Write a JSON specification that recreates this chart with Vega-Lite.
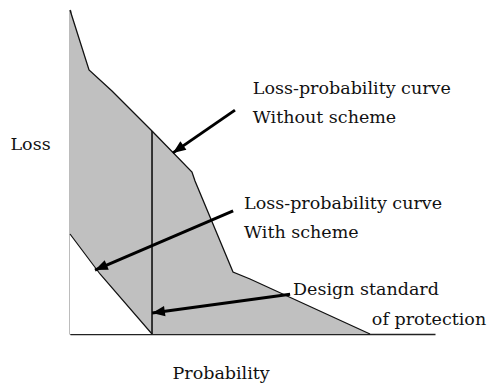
{
  "$schema": "https://vega.github.io/schema/vega-lite/v6.json",
  "width": 365,
  "height": 324,
  "autosize": {"type": "none"},
  "padding": {"left": 70, "top": 10, "right": 64, "bottom": 56},
  "background": "white",
  "config": {
    "view": {"stroke": null},
    "font": "DejaVu Serif",
    "axis": {
      "domainColor": "#222222",
      "domainWidth": 1.6,
      "ticks": false,
      "labels": false,
      "grid": false,
      "zindex": 1,
      "titleFont": "DejaVu Serif",
      "titleFontWeight": "normal",
      "titleFontSize": 17.5,
      "titleColor": "#111111"
    }
  },
  "datasets": {
    "without": [
      {"p": 0, "loss": 100},
      {"p": 5.21, "loss": 81.48},
      {"p": 11.51, "loss": 75.0},
      {"p": 22.47, "loss": 62.65},
      {"p": 33.42, "loss": 50.0},
      {"p": 34.25, "loss": 47.22},
      {"p": 44.66, "loss": 19.14},
      {"p": 49.32, "loss": 16.98},
      {"p": 82.19, "loss": 0}
    ],
    "with": [
      {"p": 0, "loss": 30.86},
      {"p": 8.22, "loss": 18.52},
      {"p": 22.47, "loss": 0}
    ],
    "standard": [
      {"p": 22.47, "loss": 62.65}
    ],
    "arrows": [
      {"id": "without", "p": 45.2, "loss": 69.1, "p2": 28.2, "loss2": 55.9},
      {"id": "with", "p": 44.7, "loss": 38.0, "p2": 6.85, "loss2": 19.75},
      {"id": "standard", "p": 60.3, "loss": 12.3, "p2": 22.5, "loss2": 6.5}
    ],
    "notes": [
      {"text": "Loss-probability curve", "p": 50.1, "loss": 75.5},
      {"text": "Without scheme", "p": 50.1, "loss": 66.7},
      {"text": "Loss-probability curve", "p": 47.7, "loss": 40.1},
      {"text": "With scheme", "p": 47.7, "loss": 31.2},
      {"text": "Design standard", "p": 61.1, "loss": 13.7},
      {"text": "of protection", "p": 82.7, "loss": 4.3}
    ]
  },
  "layer": [
    {
      "data": {"name": "without"},
      "mark": {"type": "area", "color": "#c0c0c0"},
      "encoding": {
        "x": {
          "field": "p", "type": "quantitative",
          "scale": {"domain": [0, 100], "nice": false},
          "axis": {"title": "Probability", "titleAnchor": "start", "titleAlign": "left", "titleBaseline": "middle", "titleX": 102, "titleY": 39}
        },
        "y": {
          "field": "loss", "type": "quantitative",
          "scale": {"domain": [0, 100], "nice": false},
          "axis": {"title": "Loss", "titleAngle": 0, "titleAlign": "left", "titleBaseline": "middle", "titleX": -60, "titleY": 134.5}
        },
        "y2": {"datum": 0}
      }
    },
    {
      "data": {"name": "with"},
      "mark": {"type": "area", "color": "white"},
      "encoding": {
        "x": {"field": "p", "type": "quantitative"},
        "y": {"field": "loss", "type": "quantitative"},
        "y2": {"datum": 0}
      }
    },
    {
      "data": {"name": "without"},
      "mark": {"type": "line", "color": "#111111", "strokeWidth": 1.3},
      "encoding": {
        "x": {"field": "p", "type": "quantitative"},
        "y": {"field": "loss", "type": "quantitative"}
      }
    },
    {
      "data": {"name": "with"},
      "mark": {"type": "line", "color": "#111111", "strokeWidth": 1.2},
      "encoding": {
        "x": {"field": "p", "type": "quantitative"},
        "y": {"field": "loss", "type": "quantitative"}
      }
    },
    {
      "data": {"name": "standard"},
      "mark": {"type": "rule", "color": "#111111", "strokeWidth": 1.6},
      "encoding": {
        "x": {"field": "p", "type": "quantitative"},
        "y": {"field": "loss", "type": "quantitative"},
        "y2": {"datum": 0}
      }
    },
    {
      "data": {"name": "arrows"},
      "mark": {"type": "rule", "color": "black", "strokeWidth": 3},
      "encoding": {
        "x": {"field": "p", "type": "quantitative"},
        "y": {"field": "loss", "type": "quantitative"},
        "x2": {"field": "p2"},
        "y2": {"field": "loss2"}
      }
    },
    {
      "data": {"name": "arrows"},
      "transform": [{"filter": "datum.id === 'without'"}],
      "mark": {"type": "point", "shape": "M0,0L0.7,1.7L-0.7,1.7Z", "filled": true, "color": "black", "opacity": 1, "size": 225, "angle": 235},
      "encoding": {
        "x": {"field": "p2", "type": "quantitative"},
        "y": {"field": "loss2", "type": "quantitative"}
      }
    },
    {
      "data": {"name": "arrows"},
      "transform": [{"filter": "datum.id === 'with'"}],
      "mark": {"type": "point", "shape": "M0,0L0.7,1.7L-0.7,1.7Z", "filled": true, "color": "black", "opacity": 1, "size": 225, "angle": 247},
      "encoding": {
        "x": {"field": "p2", "type": "quantitative"},
        "y": {"field": "loss2", "type": "quantitative"}
      }
    },
    {
      "data": {"name": "arrows"},
      "transform": [{"filter": "datum.id === 'standard'"}],
      "mark": {"type": "point", "shape": "M0,0L0.7,1.7L-0.7,1.7Z", "filled": true, "color": "black", "opacity": 1, "size": 225, "angle": 262},
      "encoding": {
        "x": {"field": "p2", "type": "quantitative"},
        "y": {"field": "loss2", "type": "quantitative"}
      }
    },
    {
      "data": {"name": "notes"},
      "mark": {"type": "text", "align": "left", "baseline": "middle", "fontSize": 17.5, "color": "#111111", "font": "DejaVu Serif"},
      "encoding": {
        "x": {"field": "p", "type": "quantitative"},
        "y": {"field": "loss", "type": "quantitative"},
        "text": {"field": "text"}
      }
    }
  ]
}
